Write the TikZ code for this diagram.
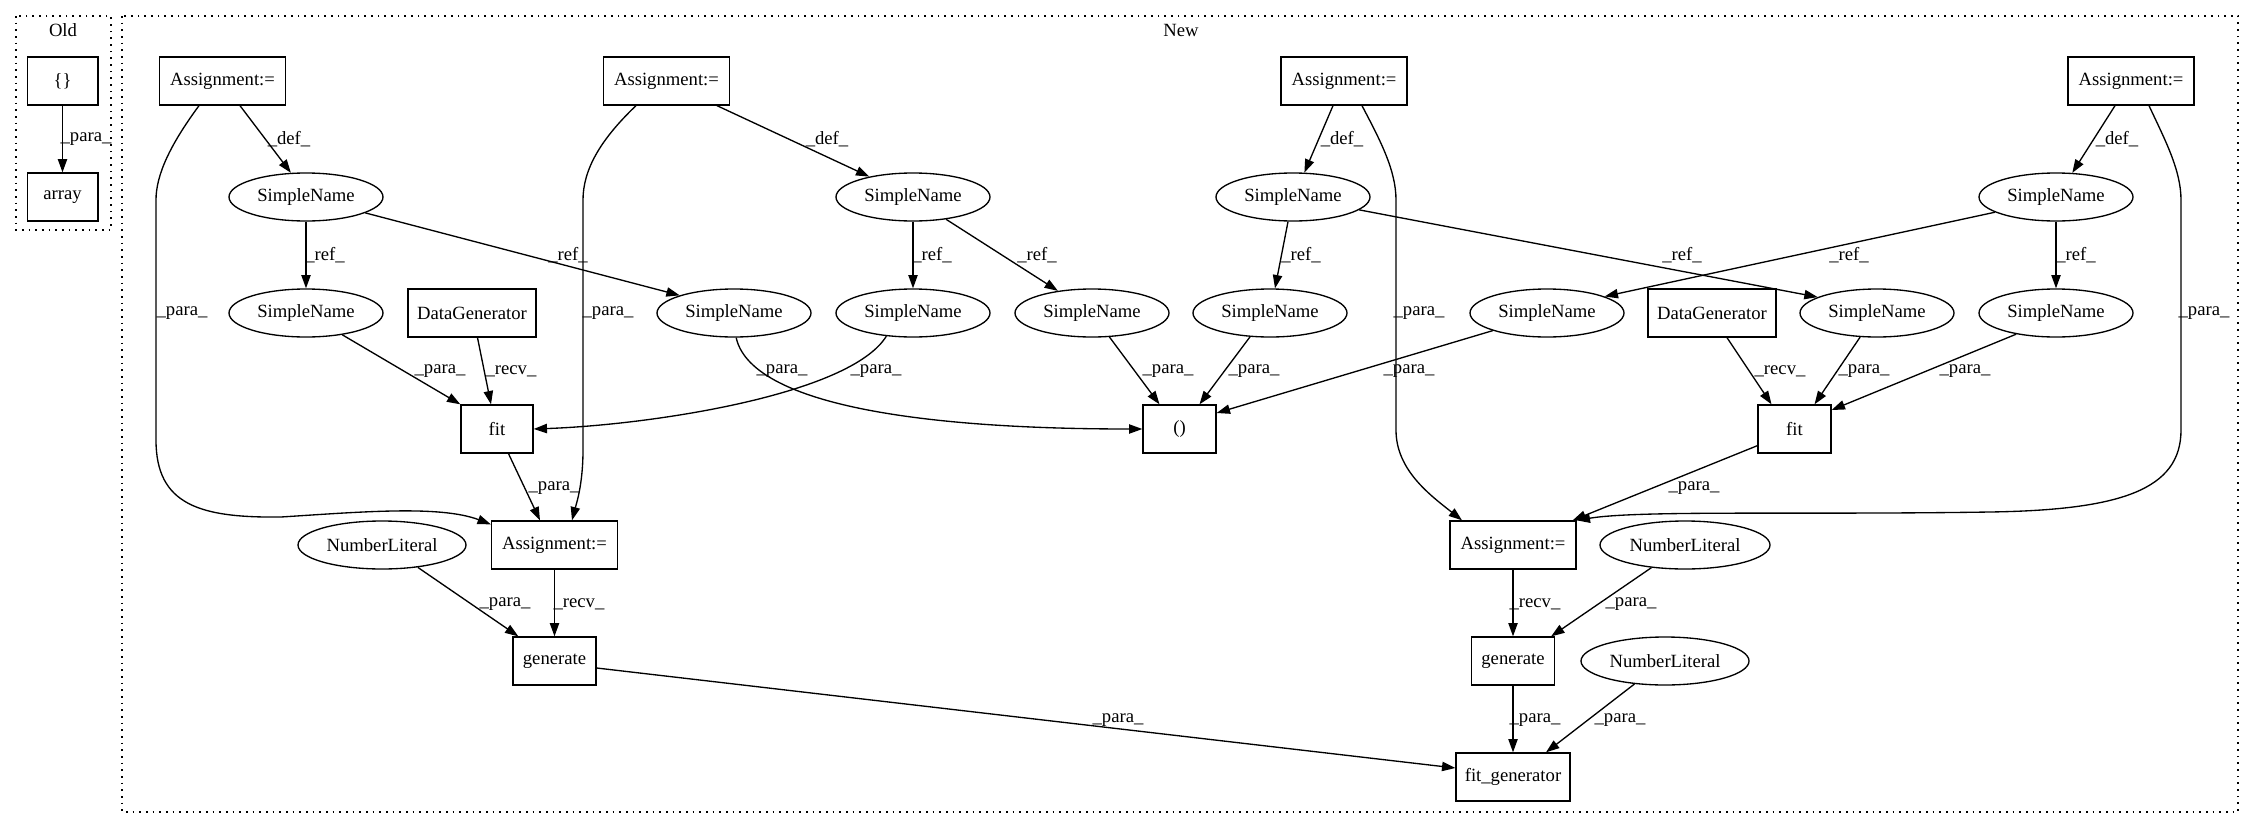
\documentclass[tikz,border=0pt]{standalone}
\usepackage{fontspec}
\setmainfont{Liberation Serif}
\usetikzlibrary{arrows.meta,calc,shapes.geometric}
\begin{document}
\begin{tikzpicture}[x=0.75pt,y=-0.75pt,
  box/.style={draw,line width=1pt,rectangle,inner sep=0pt,minimum height=36pt,font=\fontsize{14}{16}\selectfont},
  ell/.style={draw,line width=1pt,ellipse,inner sep=0pt,minimum height=36pt,minimum width=115.5pt,font=\fontsize{14}{16}\selectfont},
  conn/.style={draw,line width=1pt,-{Triangle[length=10pt,width=7pt]}},
  lab/.style={font=\fontsize{14}{16}\selectfont,inner sep=0pt},
  clus/.style={draw,line width=1pt,dash pattern=on 1.3pt off 3.7pt}]
\useasboundingbox (0,0) rectangle (2257,828);
% clusters
\draw[clus] (16,16) rectangle (111,230);
\draw[clus] (122,16) rectangle (2238,812);
\node[lab] (tOld) at (63,30) {Old};
\node[lab] (tNew) at (1181,30) {New};
% nodes
\node[box,minimum width=53pt] (O1) at (62.5,81) {\{\}};
\node[box,minimum width=53pt] (O2) at (62.5,197) {array};
\node[box,minimum width=94.5pt] (A1) at (222.5,81) {Assignment:=};
\node[box,minimum width=94.5pt] (A2) at (666.5,81) {Assignment:=};
\node[box,minimum width=94.5pt] (A3) at (1344,81) {Assignment:=};
\node[box,minimum width=94.5pt] (A4) at (2131,81) {Assignment:=};
\node[ell] (S1) at (306,197) {SimpleName};
\node[ell] (S2) at (913,197) {SimpleName};
\node[ell] (S3) at (1293,197) {SimpleName};
\node[ell] (S4) at (2056,197) {SimpleName};
\node[ell] (S1a) at (306,313) {SimpleName};
\node[box,minimum width=96pt] (D1) at (472,313) {DataGenerator};
\node[ell] (S2b) at (734,313) {SimpleName};
\node[ell] (S2a) at (913,313) {SimpleName};
\node[ell] (S2c) at (1092,313) {SimpleName};
\node[ell] (S3a) at (1270,313) {SimpleName};
\node[ell] (S4b) at (1547,313) {SimpleName};
\node[box,minimum width=96pt] (D2) at (1712,313) {DataGenerator};
\node[ell] (S3b) at (1877,313) {SimpleName};
\node[ell] (S4a) at (2056,313) {SimpleName};
\node[box,minimum width=54pt] (F1) at (497,429) {fit};
\node[box,minimum width=54.75pt] (P) at (1179.5,429) {()};
\node[box,minimum width=54.75pt] (F2) at (1794.5,429) {fit};
\node[box,minimum width=94.5pt] (A5) at (554.5,545) {Assignment:=};
\node[ell,minimum width=126pt] (N1) at (382,545) {NumberLiteral};
\node[box,minimum width=94.5pt] (A6) at (1513,545) {Assignment:=};
\node[ell,minimum width=127.5pt] (N2) at (1685,545) {NumberLiteral};
\node[box,minimum width=62.25pt] (G1) at (554.5,661) {generate};
\node[box,minimum width=62.25pt] (G2) at (1513,661) {generate};
\node[ell,minimum width=126pt] (N3) at (1665,661) {NumberLiteral};
\node[box,minimum width=85.5pt] (FG) at (1513,777) {fit\_generator};
% edges
\draw[conn] (O1) -- (O2) node[lab] at (86,139) {\_para\_};
\draw[conn] ($(A1.south)+(17.5,0)$) -- (S1.122) node[lab] at (289,139) {\_def\_};
\draw[conn] ($(A2.south)+(50.5,0)$) -- (S2.155) node[lab] at (827,139) {\_def\_};
\draw[conn] ($(A3.south)+(-11,0)$) -- (S3.65) node[lab] at (1342,139) {\_def\_};
\draw[conn] ($(A4.south)+(-16,0)$) -- (S4.56) node[lab] at (2117,139) {\_def\_};
\draw[conn] (S1) -- (S1a) node[lab] at (325,255) {\_ref\_};
\draw[conn] (S1.-15.5) -- (S2b.162) node[lab] at (568,255) {\_ref\_};
\draw[conn] (S2) -- (S2a) node[lab] at (932,255) {\_ref\_};
\draw[conn] (S2.-34) -- (S2c.147) node[lab] at (1037,255) {\_ref\_};
\draw[conn] ($(S3.south)+(-5,0)$) -- ($(S3a.north)+(5,0)$) node[lab] at (1301,255) {\_ref\_};
\draw[conn] (S3.-11) -- (S3b.165) node[lab] at (1682,255) {\_ref\_};
\draw[conn] (S4.-166) -- (S4b.16) node[lab] at (1849,255) {\_ref\_};
\draw[conn] (S4) -- (S4a) node[lab] at (2076,255) {\_ref\_};
% long para edges from assignments
\draw[conn] ($(A1.south)+(-23.5,0)$) .. controls (170,145) and (156,175) .. (156,200) -- (156,440) .. controls (156,505) and (200,518) .. (281,517) .. controls (360,512) and (440,505) .. ($(A5.north west)+(0,4)$) node[lab] at (182,313) {\_para\_};
\draw[conn] ($(A2.south)+(-30.5,0)$) .. controls (600,140) and (583,170) .. (583,200) -- (583,450) .. controls (583,485) and (576,505) .. ($(A5.north)+(17.5,0)$) node[lab] at (608,313) {\_para\_};
\draw[conn] ($(A3.south)+(18,0)$) .. controls (1380,140) and (1396,170) .. (1396,200) -- (1396,430) .. controls (1396,470) and (1430,495) .. ($(A6.north)+(-51,0)$) node[lab] at (1419,313) {\_para\_};
\draw[conn] ($(A4.south)+(18,0)$) .. controls (2165,140) and (2181,170) .. (2181,200) -- (2181,430) .. controls (2181,490) and (2120,510) .. (1990,512) .. controls (1800,515) and (1640,510) .. (A6.north east) node[lab] at (2204,313) {\_para\_};
% rank 2 -> 3
\draw[conn] (S1a.-31) -- (F1.north west) node[lab] at (440,371) {\_para\_};
\draw[conn] ($(D1.south)+(5.5,0)$) -- ($(F1.north)+(-6,0)$) node[lab] at (511,371) {\_recv\_};
\draw[conn] (S2a.-139) .. controls (850,395) and (650,425) .. (F1.east) node[lab] at (876,371) {\_para\_};
\draw[conn] (S2b.-85) .. controls (750,400) and (900,429) .. (P.west) node[lab] at (782,371) {\_para\_};
\draw[conn] (S2c.-54) -- ($(P.north)+(-20,0)$) node[lab] at (1168,371) {\_para\_};
\draw[conn] (S3a.-130) -- ($(P.north)+(20,0)$) node[lab] at (1254,371) {\_para\_};
\draw[conn] (S4b.-162) -- ($(P.east)+(0,-16)$) node[lab] at (1409,371) {\_para\_};
\draw[conn] ($(D2.south)+(15,0)$) -- ($(F2.north)+(-23,0)$) node[lab] at (1780,371) {\_recv\_};
\draw[conn] (S3b.-125) -- ($(F2.north)+(20,0)$) node[lab] at (1864,371) {\_para\_};
\draw[conn] (S4a.-152) -- ($(F2.east)+(0,-19)$) node[lab] at (1965,371) {\_para\_};
% rank 3 -> 4
\draw[conn] ($(F1.south)+(11.5,0)$) -- ($(A5.north)+(-14.5,0)$) node[lab] at (554,488) {\_para\_};
\draw[conn] ($(F2.south west)+(0,-8)$) -- ($(A6.north east)+(-4,0)$) node[lab] at (1694,488) {\_para\_};
% rank 4 -> 5 -> 6
\draw[conn] (N1.-32) -- ($(G1.north west)+(6,0)$) node[lab] at (505,604) {\_para\_};
\draw[conn] (A5) -- (G1) node[lab] at (579,604) {\_recv\_};
\draw[conn] (A6) -- (G2) node[lab] at (1535,604) {\_recv\_};
\draw[conn] (N2.-146) -- ($(G2.north east)+(-4,0)$) node[lab] at (1631,604) {\_para\_};
\draw[conn] (G2) -- (FG) node[lab] at (1535,720) {\_para\_};
\draw[conn] (N3.-143) -- ($(FG.north)+(33,0)$) node[lab] at (1620,720) {\_para\_};
\draw[conn] ($(G1.east)+(0,7)$) -- ($(FG.west)+(0,-9)$) node[lab] at (1118,720) {\_para\_};
\end{tikzpicture}
\end{document}
